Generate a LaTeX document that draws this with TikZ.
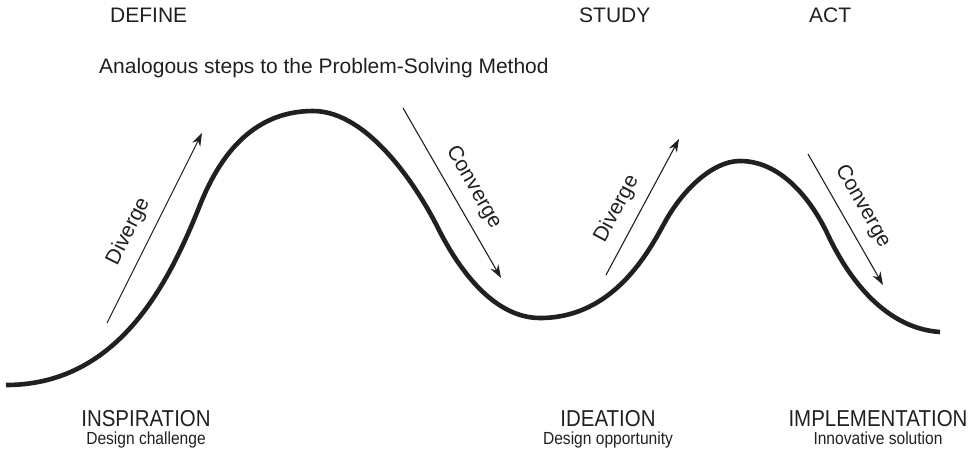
\documentclass[tikz,border=0pt]{standalone}
\usepackage{fontspec}
\setmainfont{Liberation Sans}
\newfontfamily\narrowfont[FakeStretch=0.89]{Liberation Sans}
\usetikzlibrary{arrows.meta}
\definecolor{ink}{RGB}{35,31,32}
\begin{document}
\begin{tikzpicture}[x=1pt,y=-1pt,
  toplbl/.style={font=\fontsize{21}{25}\selectfont, text=ink, inner sep=0pt, anchor=base west},
  phase/.style={font=\narrowfont\fontsize{23}{27}\selectfont, text=ink, inner sep=0pt, anchor=base},
  phsub/.style={font=\narrowfont\fontsize{17.5}{21}\selectfont, text=ink, inner sep=0pt, anchor=base},
  arr/.style={draw=ink, line width=1.1pt, -{Stealth[length=13pt,width=9pt]}},
  lbl/.style={font=\fontsize{21}{25}\selectfont, text=ink, sloped, above=8pt},
  wave/.style={draw=ink, line width=4.6pt}]
\useasboundingbox (0,0) rectangle (978,451);

% top labels
\node[toplbl] (define) at (110,22.7) {DEFINE};
\node[toplbl] (study) at (579,22.7) {STUDY};
\node[toplbl] (act) at (809,22.7) {ACT};
\node[toplbl] (sub) at (99,73) {Analogous steps to the Problem-Solving Method};

% wave
\draw[wave] (6,385) .. controls (120,385) and (170,280) .. (200,205)
  .. controls (218,160) and (250,111) .. (313,111)
  .. controls (370,111) and (420,192) .. (438,228)
  .. controls (460,272) and (495,318) .. (540,318)
  .. controls (615,318) and (650,249) .. (665,222)
  .. controls (682,191) and (712,161) .. (740,161)
  .. controls (785,161) and (815,207) .. (828,235)
  .. controls (844,269) and (880,328) .. (940,332);

% arrows
\coordinate (d1s) at (107,323); \coordinate (d1e) at (202,133);
\coordinate (c1s) at (403,108); \coordinate (c1e) at (501,278);
\coordinate (d2s) at (606,275); \coordinate (d2e) at (679,139);
\coordinate (c2s) at (808,154); \coordinate (c2e) at (883,285);
\draw[arr] (d1s) -- node[lbl, pos=0.43] (ld1) {Diverge} (d1e);
\draw[arr] (c1s) -- node[lbl, pos=0.53] (lc1) {Converge} (c1e);
\draw[arr] (d2s) -- node[lbl, pos=0.41] (ld2) {Diverge} (d2e);
\draw[arr] (c2s) -- node[lbl, pos=0.48] (lc2) {Converge} (c2e);

% bottom labels
\node[phase] (insp) at (146,426.7) {INSPIRATION};
\node[phsub] (inspsub) at (146,444.3) {Design challenge};
\node[phase] (idea) at (608,426.7) {IDEATION};
\node[phsub] (ideasub) at (608,444.3) {Design opportunity};
\node[phase] (impl) at (878,426.7) {IMPLEMENTATION};
\node[phsub] (implsub) at (878,444.3) {Innovative solution};
\end{tikzpicture}
\end{document}
